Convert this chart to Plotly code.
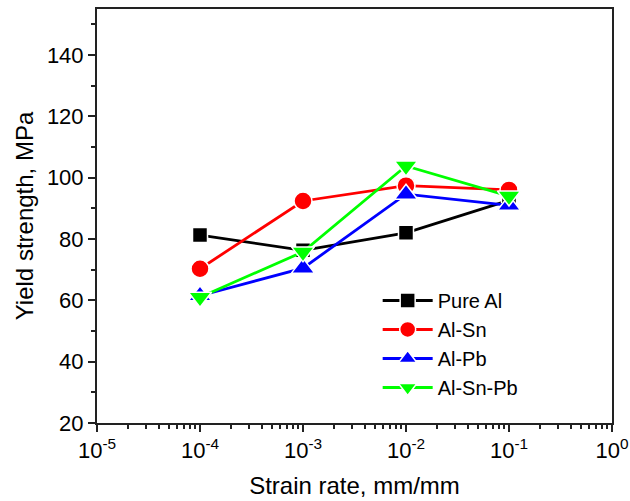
import plotly.graph_objects as go

strain_rate = [1e-4, 1e-3, 1e-2, 1e-1]
pure_al = [81.3, 76.3, 82.0, 92.6]
al_sn = [70.3, 92.4, 97.4, 96.0]
al_pb = [61.5, 70.5, 94.6, 91.0]
al_sn_pb = [61.0, 75.8, 103.8, 94.0]

series_names = ["Pure Al", "Al-Sn", "Al-Pb", "Al-Sn-Pb"]
x_tick_vals = [1e-5, 1e-4, 1e-3, 1e-2, 1e-1, 1e0]
x_tick_text = ["10<sup>-5</sup>", "10<sup>-4</sup>", "10<sup>-3</sup>",
               "10<sup>-2</sup>", "10<sup>-1</sup>", "10<sup>0</sup>"]
y_tick_vals = [20, 40, 60, 80, 100, 120, 140]

styles = [
    ("black", "square", 15),
    ("#FF0000", "circle", 18),
    ("#0000FF", "triangle-up", 20),
    ("#00FF00", "triangle-down", 20),
]

fig = go.Figure()
for name, ys, (col, sym, sz) in zip(series_names, [pure_al, al_sn, al_pb, al_sn_pb], styles):
    fig.add_trace(go.Scatter(
        x=strain_rate, y=ys, name=name, mode="lines+markers",
        line=dict(color=col, width=2.8),
        marker=dict(symbol=sym, size=sz, color=col,
                    line=dict(color="white", width=1.5)),
    ))

minor_x = [m * 10 ** e for e in range(-5, 0) for m in range(2, 10)]

font = "Liberation Sans, Arial, sans-serif"
fig.update_layout(
    width=630, height=501,
    margin=dict(l=97, r=18, t=9, b=78),
    paper_bgcolor="white", plot_bgcolor="white",
    font=dict(family=font, size=21, color="black"),
    showlegend=True,
    legend=dict(x=0.545, y=0.343, xanchor="left", yanchor="top",
                bgcolor="rgba(0,0,0,0)", font=dict(size=20, family=font, color="black"),
                tracegroupgap=0, itemwidth=50),
    xaxis=dict(
        type="log", range=[-5, 0], automargin=False,
        tickmode="array", tickvals=x_tick_vals, ticktext=x_tick_text,
        ticklabeloverflow="allow",
        ticks="outside", ticklen=7, tickwidth=1.5, tickcolor="#222",
        showline=True, linecolor="#222", linewidth=2, mirror=True,
        showgrid=False, zeroline=False,
        minor=dict(tickmode="array", tickvals=minor_x, ticks="outside",
                   ticklen=4, tickwidth=1.5, tickcolor="#222", showgrid=False),
        title=dict(text="Strain rate, mm/mm", font=dict(size=24, family=font, color="black"), standoff=15),
        tickfont=dict(size=22, family=font, color="black"),
    ),
    yaxis=dict(
        range=[20, 155], automargin=False,
        tickmode="array", tickvals=y_tick_vals,
        ticks="outside", ticklen=7, tickwidth=1.5, tickcolor="#222",
        showline=True, linecolor="#222", linewidth=2, mirror=True,
        showgrid=False, zeroline=False,
        minor=dict(tickmode="array", tickvals=[30, 50, 70, 90, 110, 130, 150],
                   ticks="outside", ticklen=4, tickwidth=1.5, tickcolor="#222",
                   showgrid=False),
        title=dict(text="Yield strength, MPa", font=dict(size=24, family=font, color="black"), standoff=6),
        tickfont=dict(size=22, family=font, color="black"),
    ),
)

fig.write_html(
    "out.html",
    config={"displayModeBar": False},
    post_script="document.body.style.margin='0';document.body.style.overflow='hidden';",
)
